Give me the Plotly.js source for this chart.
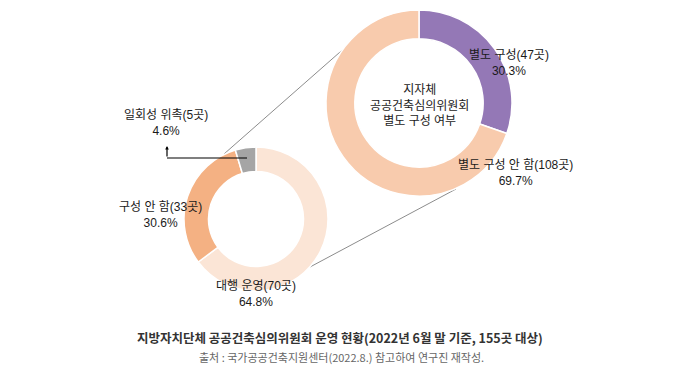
<!DOCTYPE html>
<html>
<head>
<meta charset="utf-8">
<script src="https://cdn.plot.ly/plotly-3.0.1.min.js"></script>
<style>html,body{margin:0;padding:0;background:#fff;}#chart{width:681px;height:376px;}</style>
</head>
<body>
<div id="chart"></div>
<script>
// Big donut: 지자체 공공건축심의위원회 별도 구성 여부
var bigLabels = ["별도 구성", "별도 구성 안 함"];
var bigCounts = [47, 108];
var bigPercents = ["30.3%", "69.7%"];
var bigColors = ["#9478b6", "#f8cbad"];

// Small donut: 별도 구성 안 함 breakdown
var smallLabels = ["대행 운영", "구성 안 함", "일회성 위촉"];
var smallCounts = [70, 33, 5];
var smallPercents = ["64.8%", "30.6%", "4.6%"];
var smallColors = ["#fbe5d6", "#f4b183", "#a5a5a5"];

var centerText = ["지자체", "공공건축심의위원회", "별도 구성 여부"];
var titleText = "지방자치단체 공공건축심의위원회 운영 현황(2022년 6월 말 기준, 155곳 대상)";
var sourceText = "출처 : 국가공공건축지원센터(2022.8.) 참고하여 연구진 재작성.";

var W = 681, H = 376;
function px(x){ return x / W; }
function py(y){ return 1 - y / H; }
var FONT = "Noto Sans CJK KR, sans-serif";
var LFONT = "Liberation Sans, Noto Sans CJK KR, sans-serif";
var TXT = "#1a1a1a";

function dom(cx, cy, r){ return {x:[px(cx - r), px(cx + r)], y:[py(cy + r), py(cy - r)]}; }

var traces = [
  {type:"pie", values:bigCounts, labels:bigLabels, marker:{colors:bigColors, line:{color:"#ffffff", width:1.5}},
   hole:0.69, sort:false, direction:"clockwise", rotation:0, textinfo:"none", hoverinfo:"none",
   domain:dom(419, 103, 93), showlegend:false},
  {type:"pie", values:smallCounts, labels:smallLabels, marker:{colors:smallColors, line:{color:"#ffffff", width:1.5}},
   hole:0.66, sort:false, direction:"clockwise", rotation:0, textinfo:"none", hoverinfo:"none",
   domain:dom(256, 219, 72), showlegend:false}
];

function lab(i, arrL, arrC, arrP, x, y){
  return {xref:"paper", yref:"paper", x:px(x), y:py(y), text: arrL[i] + "(" + arrC[i] + "곳)<br>" + arrP[i],
    showarrow:false, font:{family:LFONT, size:12, color:TXT}, align:"center", xanchor:"center", yanchor:"middle"};
}

var annotations = [
  lab(0, bigLabels, bigCounts, bigPercents, 509, 63),
  lab(1, bigLabels, bigCounts, bigPercents, 515, 173),
  lab(2, smallLabels, smallCounts, smallPercents, 166, 123),
  lab(1, smallLabels, smallCounts, smallPercents, 160, 215),
  lab(0, smallLabels, smallCounts, smallPercents, 256, 293),
  {xref:"paper", yref:"paper", x:px(419), y:py(105), text:centerText.join("<br>"), showarrow:false,
   font:{family:LFONT, size:12, color:TXT}, align:"center", xanchor:"center", yanchor:"middle"},
  {xref:"paper", yref:"paper", x:px(340), y:py(337), text:"<b>" + titleText + "</b>", showarrow:false,
   font:{family:FONT, size:12.5, color:"#333333"}, xanchor:"center", yanchor:"middle"},
  {xref:"paper", yref:"paper", x:px(341), y:py(357), text:sourceText, showarrow:false,
   font:{family:FONT, size:11, color:"#666666"}, xanchor:"center", yanchor:"middle"},
  {xref:"paper", yref:"paper", x:px(167), y:py(146), axref:"pixel", ayref:"pixel", ax:0, ay:12, text:"",
   showarrow:true, arrowhead:2, arrowsize:0.6, arrowwidth:1.2, arrowcolor:"#000000"}
];

var shapes = [
  {type:"line", xref:"paper", yref:"paper", x0:px(224), y0:py(154), x1:px(348), y1:py(45), line:{color:"#8c8c8c", width:1}, layer:"below"},
  {type:"line", xref:"paper", yref:"paper", x0:px(310), y0:py(267), x1:px(456), y1:py(189), line:{color:"#8c8c8c", width:1}, layer:"below"},
  {type:"line", xref:"paper", yref:"paper", x0:px(167), y0:py(158), x1:px(247), y1:py(158), line:{color:"#000000", width:1.2}, layer:"above"}
];

var layout = {width:W, height:H, margin:{l:0, r:0, t:0, b:0}, paper_bgcolor:"#ffffff", plot_bgcolor:"#ffffff",
  showlegend:false, annotations:annotations, shapes:shapes, font:{family:FONT}};

Plotly.newPlot("chart", traces, layout, {staticPlot:true, displayModeBar:false});
</script>
</body>
</html>
